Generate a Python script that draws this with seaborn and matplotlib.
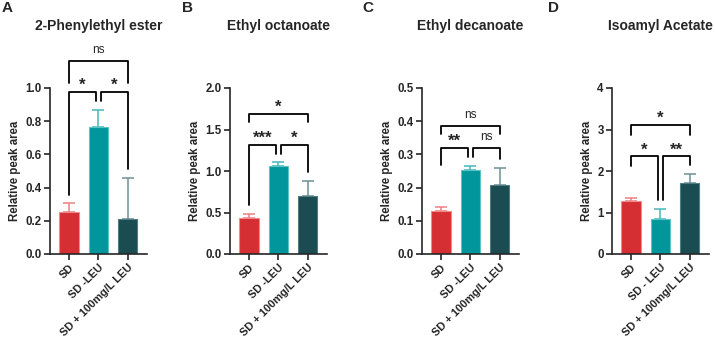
import numpy as np
import pandas as pd
import matplotlib
matplotlib.use("Agg")
import matplotlib.pyplot as plt
import seaborn as sns

# 数据
groups_abc = ["SD", "SD -LEU", "SD + 100mg/L LEU"]
groups_d = ["SD", "SD - LEU", "SD + 100mg/L LEU"]

titles = ["2-Phenylethyl ester", "Ethyl octanoate", "Ethyl decanoate", "Isoamyl Acetate"]
letters = ["A", "B", "C", "D"]

phenyl_mean = [0.256, 0.765, 0.209]
phenyl_err = [0.050, 0.104, 0.248]
octan_mean = [0.436, 1.064, 0.704]
octan_err = [0.040, 0.044, 0.180]
decan_mean = [0.129, 0.252, 0.207]
decan_err = [0.013, 0.014, 0.053]
isoamyl_mean = [1.28, 0.848, 1.72]
isoamyl_err = [0.07, 0.232, 0.21]

yticks_a = [0.0, 0.2, 0.4, 0.6, 0.8, 1.0]
yticks_b = [0.0, 0.5, 1.0, 1.5, 2.0]
yticks_c = [0.0, 0.1, 0.2, 0.3, 0.4, 0.5]
yticks_d = [0, 1, 2, 3, 4]

# 显著性标注: (x1, x2, 横线高度, 左腿底, 右腿底, 文本)
sig_a = [(0, 2, 1.16, 1.03, 1.03, "ns"),
         (0, 0.91, 0.976, 0.356, 0.92, "*"),
         (1.09, 2, 0.976, 0.92, 0.51, "*")]
sig_b = [(0, 2, 1.688, 1.596, 1.596, "*"),
         (0, 0.91, 1.316, 0.588, 1.208, "***"),
         (1.09, 2, 1.316, 1.208, 0.988, "*")]
sig_c = [(0, 2, 0.385, 0.362, 0.362, "ns"),
         (0, 0.91, 0.319, 0.269, 0.292, "**"),
         (1.09, 2, 0.319, 0.292, 0.285, "ns")]
sig_d = [(0, 2, 3.10, 2.87, 2.87, "*"),
         (0, 0.91, 2.35, 2.11, 1.31, "*"),
         (1.09, 2, 2.35, 1.31, 2.15, "**")]

bar_colors = ["#D62F33", "#00969B", "#1B4C52"]
edge_colors = ["#EE8A8C", "#5CC3C6", "#4F7D82"]
err_colors = ["#EE7F82", "#47B7BB", "#6B9297"]

sns.set_style("ticks")
plt.rcParams['font.family'] = ['Liberation Sans', 'DejaVu Sans']
plt.rcParams['font.weight'] = 'bold'

fig = plt.figure(figsize=(7.15, 3.39), dpi=100)
W, H = 715.0, 339.0
lefts = [50, 230, 422, 612]
letter_x = [2, 182, 362, 548]

panels = [
    (groups_abc, phenyl_mean, phenyl_err, yticks_a, sig_a),
    (groups_abc, octan_mean, octan_err, yticks_b, sig_b),
    (groups_abc, decan_mean, decan_err, yticks_c, sig_c),
    (groups_d, isoamyl_mean, isoamyl_err, yticks_d, sig_d),
]

for k, (groups, means, errs, yt, sigs) in enumerate(panels):
    ax = fig.add_axes([lefts[k] / W, (H - 254) / H, 97 / W, 166 / H])
    df = pd.DataFrame({"group": groups, "value": means})
    sns.barplot(data=df, x="group", y="value", hue="group", palette=bar_colors,
                saturation=1, width=0.66, errorbar=None, legend=False, ax=ax, zorder=2)
    for p, ec in zip(ax.patches, edge_colors):
        p.set_edgecolor(ec)
        p.set_linewidth(0.8)
    for i in range(3):
        ax.errorbar(i, means[i], yerr=[[0], [errs[i]]], fmt='none', ecolor=err_colors[i],
                    elinewidth=1.1, capsize=4.0, capthick=1.1, zorder=1)

    ax.set_xlim(-0.65, 2.66)
    ax.set_ylim(yt[0], yt[-1])
    ax.set_yticks(yt)
    if k == 3:
        ax.set_yticklabels([str(v) for v in yt])
    else:
        ax.set_yticklabels([f"{v:.1f}" for v in yt])
    ax.set_xticks(range(3))
    ax.set_xticklabels(groups, rotation=45, ha='right', rotation_mode='anchor',
                       fontsize=7.9, fontweight='bold')
    ax.tick_params(axis='y', labelsize=8.3, width=1.2, length=4, pad=2)
    ax.tick_params(axis='x', width=1.2, length=4, pad=2)
    ax.set_xlabel("")
    ax.set_ylabel("Relative peak area", fontsize=8.3, fontweight='bold', labelpad=3)
    sns.despine(ax=ax)
    for s in ["left", "bottom"]:
        ax.spines[s].set_linewidth(1.2)

    # 显著性括号
    span = yt[-1] - yt[0]
    for x1, x2, y, yl, yr, txt in sigs:
        ax.plot([x1, x1, x2, x2], [yl, y, y, yr], color='black', lw=1.3,
                clip_on=False, zorder=3)
        if txt == "ns":
            ax.text((x1 + x2) / 2, y + span * 0.03, txt, ha='center', va='bottom',
                    fontsize=8.5, fontweight='normal')
        else:
            ax.text((x1 + x2) / 2, y - span * 0.005, txt, ha='center', va='bottom',
                    fontsize=12, fontweight='bold')

    cx = (lefts[k] + 48.5) / W
    fig.text(cx, 1 - 26 / H, titles[k], ha='center', va='center', fontsize=10,
             fontweight='bold')
    fig.text(letter_x[k] / W, 1 - 8 / H, letters[k], ha='left', va='center',
             fontsize=11, fontweight='bold')

fig.savefig("out.png", dpi=100)
